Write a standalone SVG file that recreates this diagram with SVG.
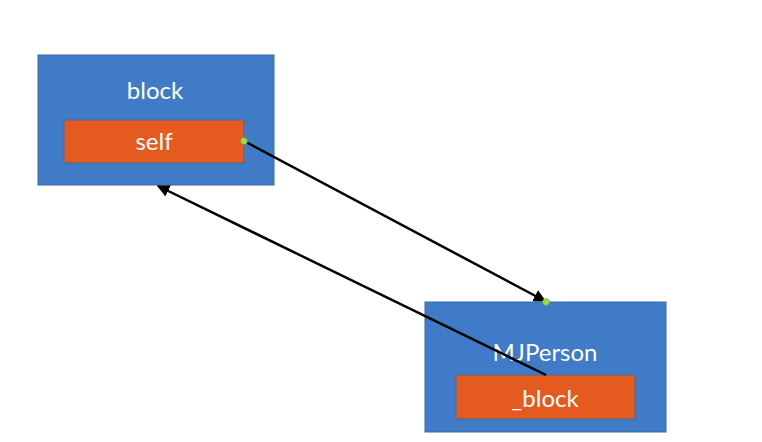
<svg xmlns="http://www.w3.org/2000/svg" width="762" height="442" viewBox="0 0 762 442">
<style>
.outer{fill:#3f7bc6;stroke:#3a6aa8;stroke-width:1}
.inner{fill:#e55a1f;stroke:#4a6a90;stroke-width:1}
.t{font-family:Lato,"Open Sans",sans-serif;fill:#ffffff;text-anchor:middle;dominant-baseline:central;font-size:24px}
.conn{stroke:#000;stroke-width:2.5;fill:none}
.dot{fill:#9bdc4a;stroke:#5a8a30;stroke-width:0.5}
</style>
<defs>
<marker id="ah" viewBox="0 0 10 10" refX="9" refY="5" markerWidth="5" markerHeight="5" orient="auto" markerUnits="strokeWidth">
<path d="M0,0 L10,5 L0,10 z" fill="#000"/>
</marker>
</defs>
<rect width="762" height="442" fill="#ffffff"/>
<g id="block">
<rect class="outer" x="38" y="55" width="236" height="130"/>
<text class="t" x="155" y="89">block</text>
</g>
<g id="self">
<rect class="inner" x="64" y="120" width="180" height="43"/>
<text class="t" x="154" y="140">self</text>
</g>
<g id="MJPerson">
<rect class="outer" x="425" y="302" width="241" height="130"/>
<text class="t" x="545" y="351">MJPerson</text>
</g>
<g id="_block">
<rect class="inner" x="456" y="375" width="179" height="44"/>
<text class="t" x="545" y="397">_block</text>
</g>
<g id="connectors">
<line class="conn" x1="244" y1="141" x2="545" y2="301" marker-end="url(#ah)"/>
<line class="conn" x1="546" y1="375" x2="158" y2="186" marker-end="url(#ah)"/>
<circle class="dot" cx="244" cy="141" r="3.5"/>
<circle class="dot" cx="546" cy="302" r="3.5"/>
</g>
</svg>
